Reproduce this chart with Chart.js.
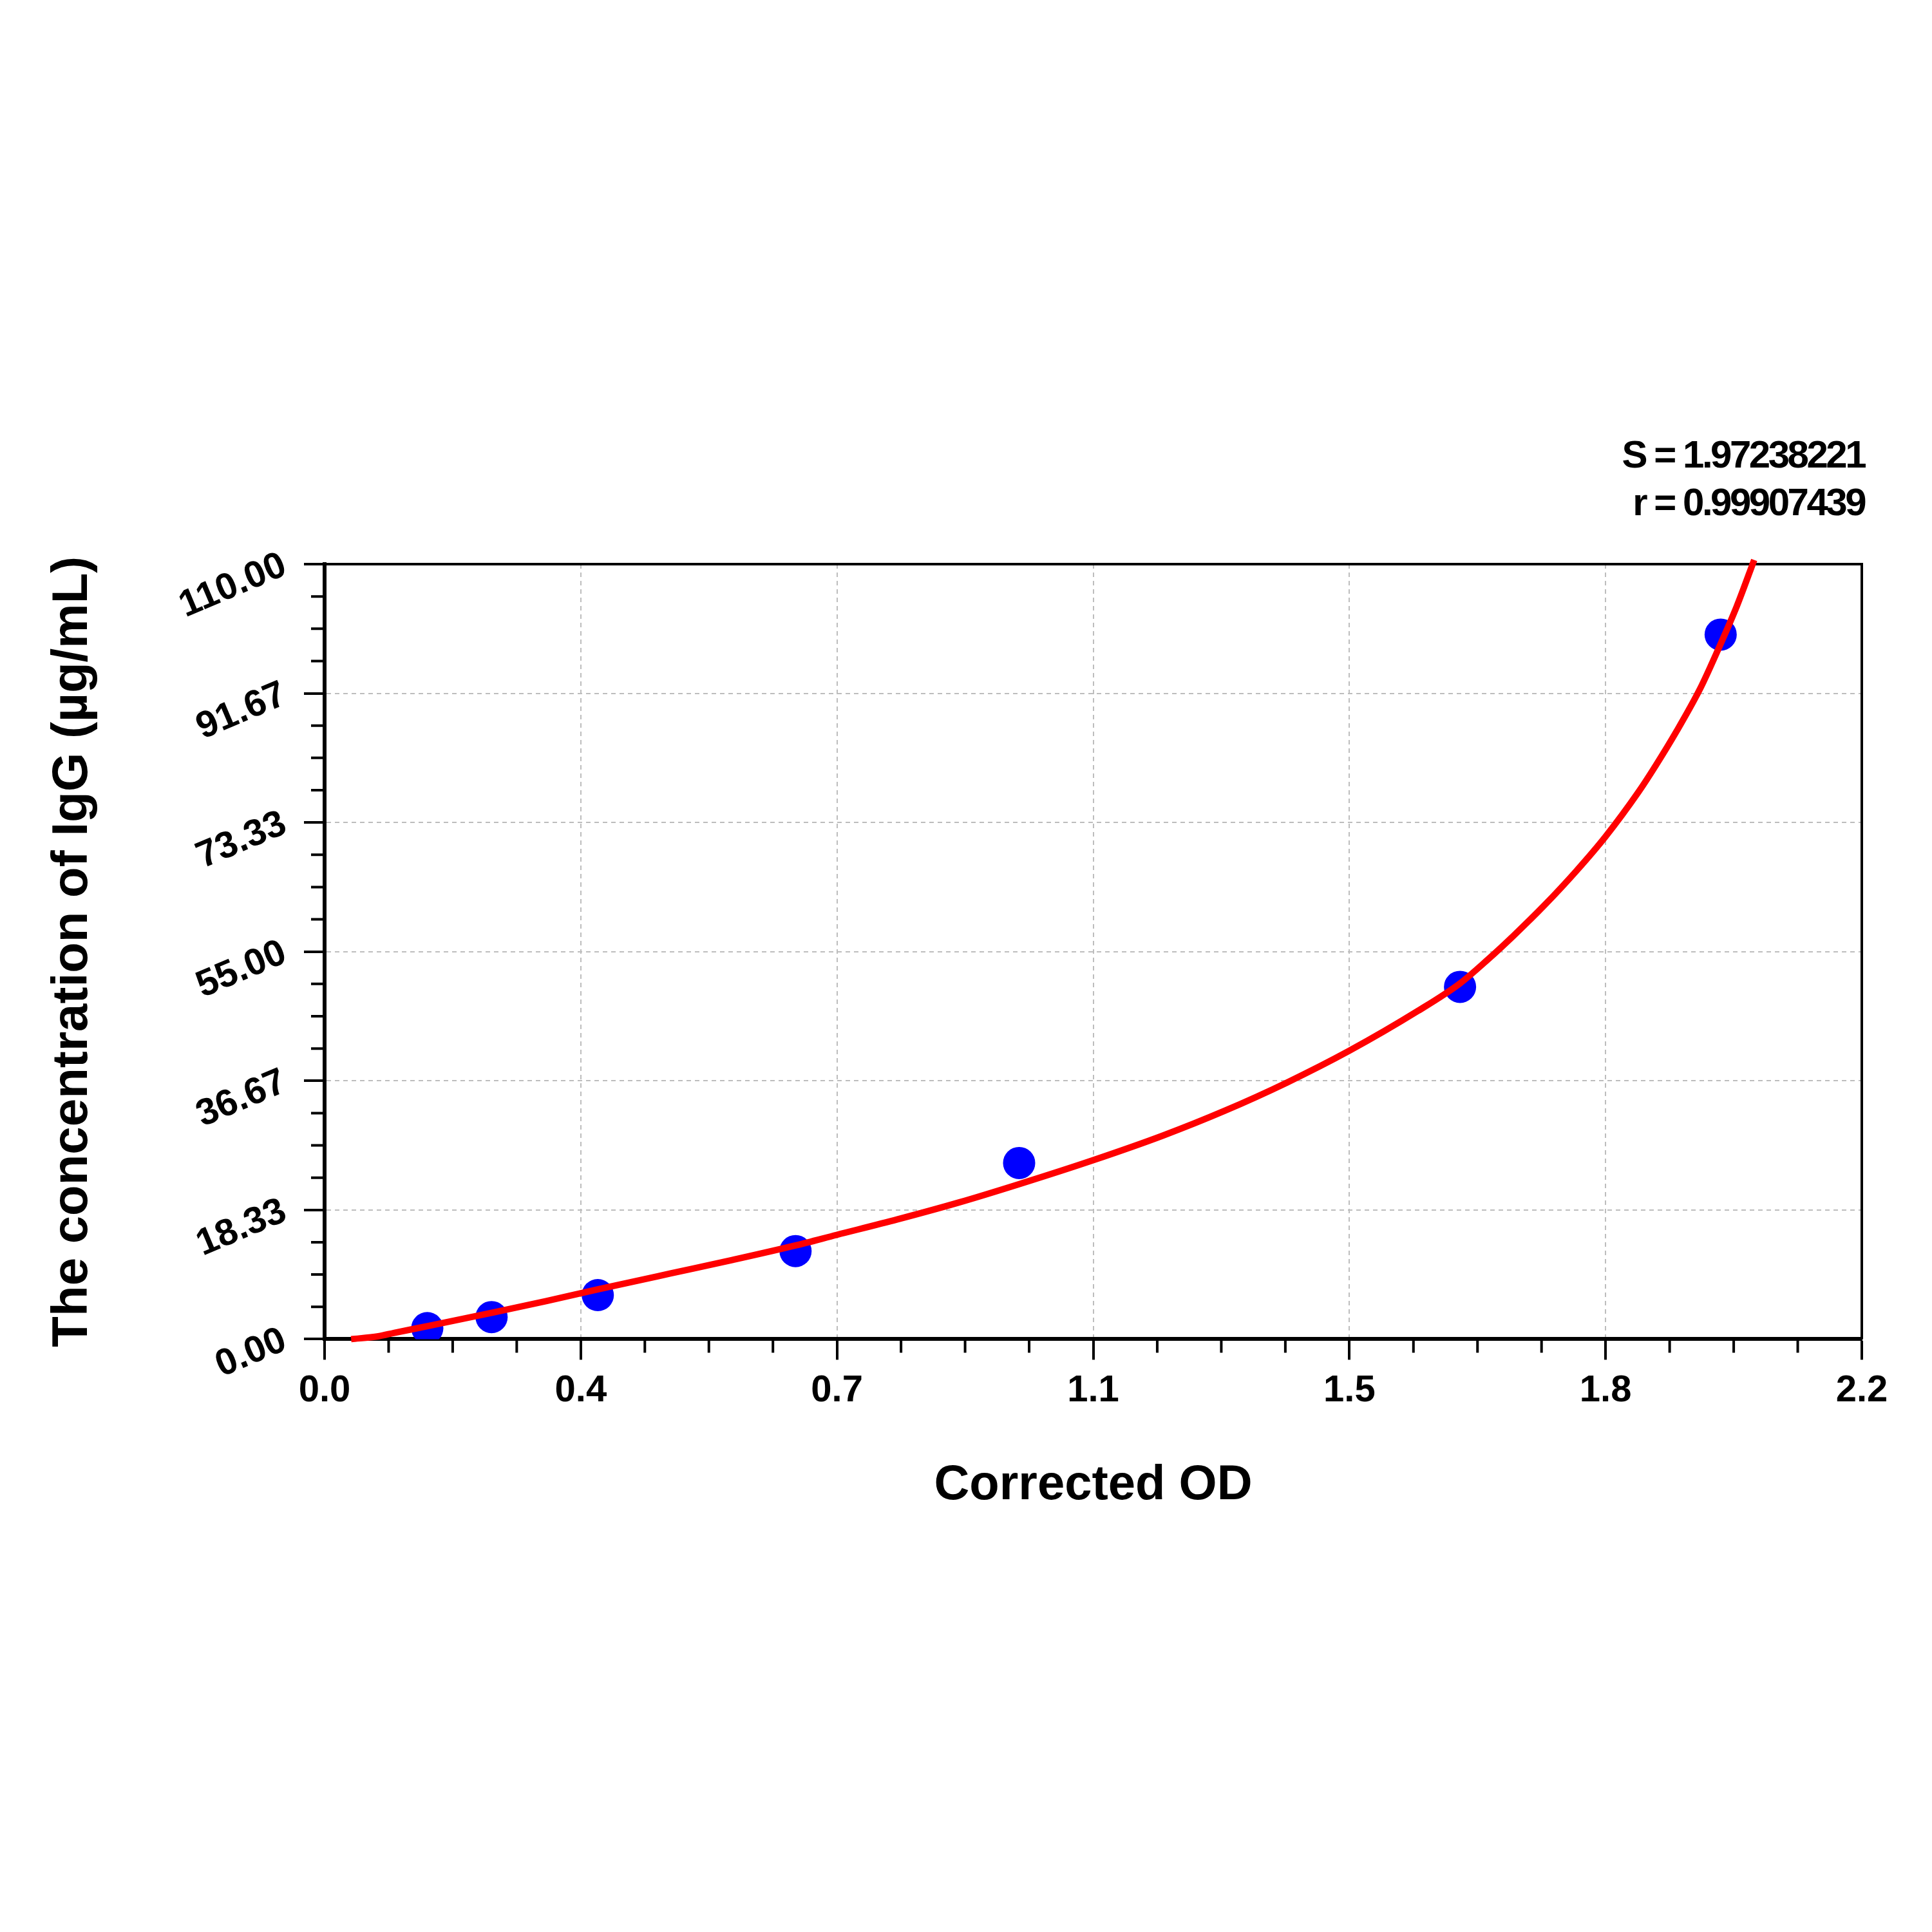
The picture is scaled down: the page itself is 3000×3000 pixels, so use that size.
<!DOCTYPE html>
<html>
<head>
<meta charset="utf-8">
<script src="https://cdn.jsdelivr.net/npm/chart.js@4.4.1/dist/chart.umd.min.js"></script>
<style>
html,body{margin:0;padding:0;background:#ffffff;}
canvas{display:block;}
</style>
</head>
<body>
<canvas id="c" width="3000" height="3000" style="width:3000px;height:3000px"></canvas>
<script>
// ---- data ----
const stdOD   = [0.147, 0.239, 0.391, 0.674, 0.994, 1.625, 1.998];
const stdConc = [1.56, 3.13, 6.25, 12.5, 25.0, 50.0, 100.0];

const fitOD   = [0.038, 0.077, 0.10, 0.15, 0.242, 0.317, 0.393, 0.494, 0.582, 0.674, 0.733, 0.82, 0.908, 0.994, 1.1, 1.2, 1.288, 1.377, 1.466, 1.565, 1.625, 1.665, 1.702, 1.745, 1.791, 1.833, 1.88, 1.905, 1.935, 1.969, 1.994, 2.021, 2.046];
const fitConc = [0.0, 0.4, 0.9, 1.9, 3.8, 5.4, 7.1, 9.3, 11.2, 13.3, 14.8, 17.0, 19.4, 22.0, 25.4, 28.9, 32.4, 36.4, 40.9, 46.6, 50.5, 53.9, 57.3, 61.5, 66.4, 71.3, 77.6, 81.4, 86.3, 92.4, 97.8, 104.0, 110.6];

const xTickValues = [0, 0.366667, 0.733333, 1.1, 1.466667, 1.833333, 2.2];
const xTickLabels = ['0.0', '0.4', '0.7', '1.1', '1.5', '1.8', '2.2'];
const yTickValues = [0, 18.333333, 36.666667, 55, 73.333333, 91.666667, 110];
const yTickLabels = ['0.00', '18.33', '36.67', '55.00', '73.33', '91.67', '110.00'];

const xTitle = 'Corrected OD';
const yTitle = 'The concentration of IgG (µg/mL)';
const statLines = ['S = 1.97238221', 'r = 0.99907439'];

// ---- style ----
const FONT = "'Liberation Sans', Arial, sans-serif";
const tickFont = {family: FONT, size: 58, weight: 'bold'};
const xTitleFont = {family: FONT, size: 76, weight: 'bold'};
const yTitleFont = {family: FONT, size: 78, weight: 'bold'};

const minorTicks = {
  id: 'minorTicks',
  afterDraw(chart) {
    const ctx = chart.ctx, a = chart.chartArea;
    const xs = chart.scales.x, ys = chart.scales.y;
    ctx.save();
    ctx.strokeStyle = '#000';
    ctx.lineWidth = 4;
    ctx.setLineDash([]);
    ctx.beginPath();
    for (let i = 0; i < xTickValues.length - 1; i++) {
      const a0 = xTickValues[i], a1 = xTickValues[i + 1];
      for (let k = 1; k < 4; k++) {
        const px = xs.getPixelForValue(a0 + (a1 - a0) * k / 4);
        ctx.moveTo(px, a.bottom);
        ctx.lineTo(px, a.bottom + 21);
      }
    }
    for (let i = 0; i < yTickValues.length - 1; i++) {
      const a0 = yTickValues[i], a1 = yTickValues[i + 1];
      for (let k = 1; k < 4; k++) {
        const py = ys.getPixelForValue(a0 + (a1 - a0) * k / 4);
        ctx.moveTo(a.left - 21, py);
        ctx.lineTo(a.left, py);
      }
    }
    ctx.stroke();
    ctx.restore();
  }
};

const frame = {
  id: 'frame',
  beforeDatasetsDraw(chart) {
    const ctx = chart.ctx, a = chart.chartArea;
    ctx.save();
    ctx.strokeStyle = '#000';
    ctx.lineWidth = 4;
    ctx.setLineDash([]);
    ctx.beginPath();
    ctx.moveTo(a.left, a.top);
    ctx.lineTo(a.right, a.top);
    ctx.lineTo(a.right, a.bottom);
    ctx.stroke();
    ctx.restore();
  }
};

const stats = {
  id: 'stats',
  afterDraw(chart) {
    const ctx = chart.ctx, a = chart.chartArea;
    ctx.save();
    ctx.fillStyle = '#000';
    ctx.font = "bold 60px " + FONT;
    ctx.textAlign = 'right';
    ctx.textBaseline = 'alphabetic';
    try { ctx.letterSpacing = '-3.5px'; } catch (e) {}
    ctx.fillText(statLines[0], a.right + 4, a.top - 150);
    ctx.fillText(statLines[1], a.right + 4, a.top - 76);
    ctx.restore();
  }
};

function zeroPad(scale) {
  scale.paddingLeft = 0; scale.paddingRight = 0;
  scale.paddingTop = 0; scale.paddingBottom = 0;
}

new Chart(document.getElementById('c'), {
  data: {
    datasets: [
      {
        type: 'line',
        label: 'fit',
        data: fitOD.map((x, i) => ({x: x, y: fitConc[i]})),
        borderColor: '#ff0000',
        borderWidth: 10,
        pointRadius: 0,
        fill: false,
        cubicInterpolationMode: 'monotone',
        clip: false,
        order: 0
      },
      {
        type: 'scatter',
        label: 'standards',
        data: stdOD.map((x, i) => ({x: x, y: stdConc[i]})),
        backgroundColor: '#0000ff',
        borderColor: '#0000ff',
        borderWidth: 0,
        pointRadius: 25,
        order: 1
      }
    ]
  },
  options: {
    responsive: false,
    devicePixelRatio: 1,
    animation: false,
    layout: {padding: {left: 67, top: 876, right: 109, bottom: 647}},
    plugins: {legend: {display: false}, tooltip: {enabled: false}, title: {display: false}},
    scales: {
      x: {
        type: 'linear',
        position: 'bottom',
        min: 0, max: 2.2,
        afterBuildTicks(s) { s.ticks = xTickValues.map(v => ({value: v})); },
        afterFit(s) { s.height = 273.6; zeroPad(s); },
        ticks: {
          autoSkip: false, maxRotation: 0, minRotation: 0,
          padding: 14, color: '#000', font: tickFont,
          callback: (v, i) => xTickLabels[i]
        },
        grid: {
          display: true, drawOnChartArea: true, drawTicks: true,
          color: '#bdbdbd', lineWidth: 2,
          tickLength: 32, tickWidth: 4, tickColor: '#000', tickBorderDash: []
        },
        border: {display: true, color: '#000', width: 6, dash: [7, 6]},
        title: {display: true, text: xTitle, color: '#000', font: xTitleFont, padding: 0}
      },
      y: {
        type: 'linear',
        position: 'left',
        min: 0, max: 110,
        afterBuildTicks(s) { s.ticks = yTickValues.map(v => ({value: v})); },
        afterFit(s) { s.width = 437; zeroPad(s); },
        ticks: {
          autoSkip: false, minRotation: 23, maxRotation: 23,
          padding: 30, color: '#000', font: tickFont,
          callback: (v, i) => yTickLabels[i]
        },
        grid: {
          display: true, drawOnChartArea: true, drawTicks: true,
          color: '#bdbdbd', lineWidth: 2,
          tickLength: 32, tickWidth: 4, tickColor: '#000', tickBorderDash: []
        },
        border: {display: true, color: '#000', width: 6, dash: [7, 6]},
        title: {display: true, text: yTitle, color: '#000', font: yTitleFont, padding: 0}
      }
    }
  },
  plugins: [frame, minorTicks, stats]
});
</script>
</body>
</html>
